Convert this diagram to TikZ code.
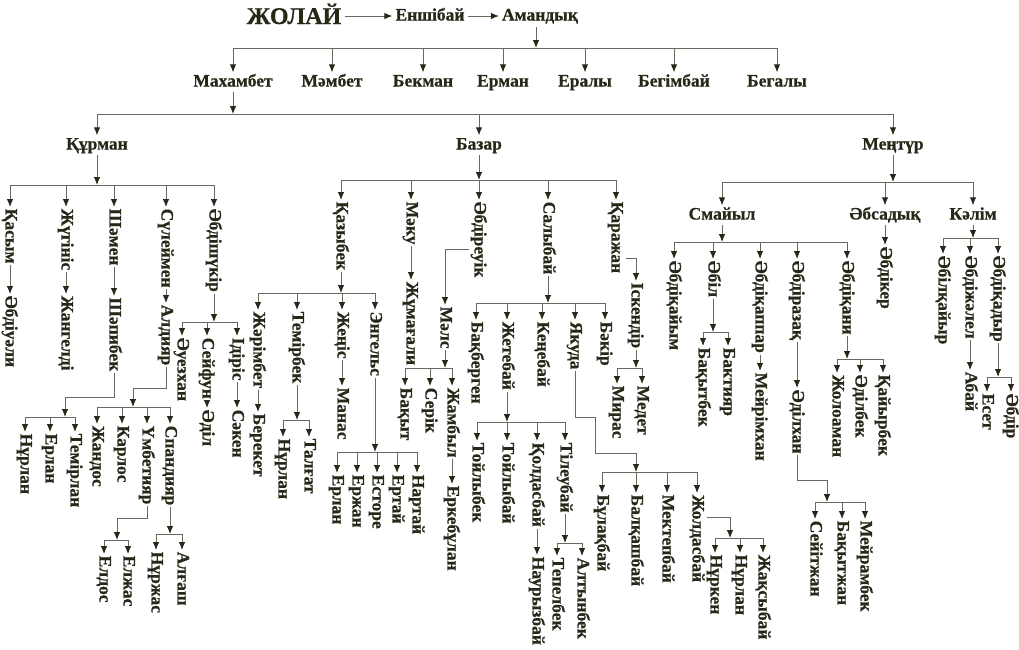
\documentclass[tikz,border=0pt]{standalone}
\usepackage{fontspec}
\setmainfont{Liberation Serif}[BoldFeatures={FakeBold=0.6}]
\usetikzlibrary{arrows.meta,calc}
\definecolor{txtc}{RGB}{40,40,25}
\definecolor{linec}{RGB}{105,105,95}
\definecolor{headc}{RGB}{40,40,25}
\newcommand\nmfont{\fontsize{17.5}{20}\selectfont\bfseries}
\tikzset{
  nm/.style={font=\nmfont, text=txtc, inner sep=1.5pt, text height=12.5pt, text depth=3.5pt},
  vnm/.style={nm, rotate=-90, anchor=west},
  ln/.style={draw=linec, line width=0.9pt},
  arr/.style={ln, -{Latex[length=8pt,width=6.5pt,color=headc]}},
}
\begin{document}
\begin{tikzpicture}[x=1pt,y=-1pt]
\fill[white] (0,0) rectangle (1019,649);
\useasboundingbox (0,0) rectangle (1019,649);

% top line
\node[nm, font=\fontsize{24}{28}\selectfont\bfseries, text height=17pt, text depth=1pt, inner sep=4pt] (zholai) at (294,16) {ЖОЛАЙ};
\node[nm, inner sep=3pt] (enshibai) at (430,16) {Еншібай};
\node[nm, inner sep=3pt] (amandyk) at (540,16) {Амандық};
\draw[arr] (zholai) -- (enshibai);
\draw[arr] (enshibai) -- (amandyk);
\coordinate (topbar) at (536,48);
\draw[arr] (amandyk.south -| topbar) -- (topbar);

% sons of Амандық
\node[nm] (mahambet) at (233,82) {Махамбет};
\node[nm] (mambet) at (332,82) {Мәмбет};
\node[nm] (bekman) at (423,82) {Бекман};
\node[nm] (erman) at (503,82) {Ерман};
\node[nm] (eraly) at (585,82) {Ералы};
\node[nm] (begimbai) at (674,82) {Бегімбай};
\node[nm] (begaly) at (777,82) {Бегалы};
\draw[ln] (mahambet |- topbar) -- (begaly |- topbar);
\foreach \c in {mahambet,mambet,bekman,erman,eraly,begimbai,begaly}
  \draw[arr] (\c |- topbar) -- (\c.north);

% sons of Махамбет
\node[nm] (kurman) at (97,145) {Құрман};
\node[nm] (bazar) at (479,145) {Базар};
\node[nm] (mentur) at (893,145) {Меңтүр};
\coordinate (midbar) at (233,114);
\draw[arr] (mahambet) -- (mahambet |- midbar);
\draw[ln] (kurman |- midbar) -- (mentur |- midbar);
\foreach \c in {kurman,bazar,mentur}
  \draw[arr] (\c |- midbar) -- (\c.north);

% ---- Құрман ----
\coordinate (kurmanbar) at (97,185);
\node[vnm] (kasym) at (10,207) {Қасым};
\node[vnm] (zhuginis) at (66,207) {Жүгініс};
\node[vnm] (shamen) at (114,207) {Шәмен};
\node[vnm] (suleimen) at (166,207) {Сүлеймен};
\node[vnm] (abdishukir) at (214,207) {Әбдішүкір};
\node[vnm] (abdiuali) at (10,294) {Әбдіуәли};
\node[vnm] (zhangeldi) at (66,294) {Жангелді};
\node[vnm] (shapibek) at (114,296) {Шәпибек};
\node[vnm] (aldiyar) at (166,303) {Алдияр};
\draw[arr] (kurman) -- (kurman |- kurmanbar);
\draw[ln] (kasym.west |- kurmanbar) -- (abdishukir.west |- kurmanbar);
\foreach \c in {kasym,zhuginis,shamen,suleimen,abdishukir}
  \draw[arr] (\c.west |- kurmanbar) -- (\c.west);
\draw[arr] (kasym) -- (abdiuali);
\draw[arr] (zhuginis) -- (zhangeldi);
\draw[arr] (shamen) -- (shapibek);
\draw[arr] (suleimen) -- (aldiyar);

% Шәпибек
\coordinate (shapibekelb) at (65,397);
\coordinate (shapibekbar) at (65,417);
\node[vnm] (nurlanA) at (25,432) {Нұрлан};
\node[vnm] (erlanA) at (50,432) {Ерлан};
\node[vnm] (temirlan) at (75,432) {Темірлан};
\draw[arr] (shapibek.east) |- (shapibekelb) -- (shapibekbar);
\draw[ln] (nurlanA.west |- shapibekbar) -- (temirlan.west |- shapibekbar);
\foreach \c in {nurlanA,erlanA,temirlan}
  \draw[arr] (\c.west |- shapibekbar) -- (\c.west);

% Алдияр
\coordinate (aldiyarelb) at (133,388);
\coordinate (aldiyarbar) at (133,407);
\node[vnm] (zhandos) at (97,424) {Жандос};
\node[vnm] (karlos) at (122,424) {Карлос};
\node[vnm] (umbetiyar) at (147,424) {Үмбетияр};
\node[vnm] (spandiyar) at (170,424) {Спандияр};
\draw[arr] (aldiyar.east) |- (aldiyarelb) -- (aldiyarbar);
\draw[ln] (zhandos.west |- aldiyarbar) -- (spandiyar.west |- aldiyarbar);
\foreach \c in {zhandos,karlos,umbetiyar,spandiyar}
  \draw[arr] (\c.west |- aldiyarbar) -- (\c.west);

\coordinate (umbetiyarelb) at (117,518);
\coordinate (umbetiyarbar) at (117,540);
\node[vnm] (eldos) at (104,554) {Елдос};
\node[vnm] (elzhas) at (128,554) {Елжас};
\draw[arr] (umbetiyar.east) |- (umbetiyarelb) -- (umbetiyarbar);
\draw[ln] (eldos.west |- umbetiyarbar) -- (elzhas.west |- umbetiyarbar);
\foreach \c in {eldos,elzhas}
  \draw[arr] (\c.west |- umbetiyarbar) -- (\c.west);

\coordinate (spandiyarbar) at (170,534);
\node[vnm] (nurzhas) at (156,550) {Нұржас};
\node[vnm] (algash) at (182,550) {Алғаш};
\draw[arr] (spandiyar.east) -- (spandiyar.east |- spandiyarbar);
\draw[ln] (nurzhas.west |- spandiyarbar) -- (algash.west |- spandiyarbar);
\foreach \c in {nurzhas,algash}
  \draw[arr] (\c.west |- spandiyarbar) -- (\c.west);

% Әбдішүкір
\coordinate (abdishukirbar) at (214,322);
\node[vnm] (auezkhan) at (182,336) {Әуезхан};
\node[vnm] (seifun) at (207,336) {Сейфун};
\node[vnm] (idiris) at (237,336) {Ідіріс};
\node[vnm] (adil) at (207,408) {Әділ};
\node[vnm] (saken) at (237,408) {Сәкен};
\draw[arr] (abdishukir.east) -- (abdishukir.east |- abdishukirbar);
\draw[ln] (auezkhan.west |- abdishukirbar) -- (idiris.west |- abdishukirbar);
\foreach \c in {auezkhan,seifun,idiris}
  \draw[arr] (\c.west |- abdishukirbar) -- (\c.west);
\draw[arr] (seifun) -- (adil);
\draw[arr] (idiris) -- (saken);

% ---- Базар ----
\coordinate (bazarbar) at (479,180);
\node[vnm] (kazybek) at (341,200) {Қазыбек};
\node[vnm] (maku) at (411,200) {Мәку};
\node[vnm] (abdireuik) at (479,200) {Әбдіреуік};
\node[vnm] (salybai) at (548,200) {Салыбай};
\node[vnm] (karazhan) at (616,200) {Қаражан};
\node[vnm] (zhumagali) at (411,280) {Жұмағали};
\draw[arr] (bazar) -- (bazar |- bazarbar);
\draw[ln] (kazybek.west |- bazarbar) -- (karazhan.west |- bazarbar);
\foreach \c in {kazybek,maku,abdireuik,salybai,karazhan}
  \draw[arr] (\c.west |- bazarbar) -- (\c.west);
\draw[arr] (maku) -- (zhumagali);

% Қазыбек
\coordinate (kazybekbar) at (341,293);
\node[vnm] (zharimbet) at (258,310) {Жәрімбет};
\node[vnm] (temirbek) at (297,310) {Темірбек};
\node[vnm] (zhenis) at (342,310) {Жеңіс};
\node[vnm] (engels) at (375,310) {Энгельс};
\node[vnm] (bereket) at (258,412) {Берекет};
\node[vnm] (manas) at (342,386) {Манас};
\draw[arr] (kazybek.east) -- (kazybek.east |- kazybekbar);
\draw[ln] (zharimbet.west |- kazybekbar) -- (engels.west |- kazybekbar);
\foreach \c in {zharimbet,temirbek,zhenis,engels}
  \draw[arr] (\c.west |- kazybekbar) -- (\c.west);
\draw[arr] (zharimbet) -- (bereket);
\draw[arr] (zhenis) -- (manas);

\coordinate (temirbekbar) at (297,420);
\node[vnm] (nurlanB) at (283,437) {Нұрлан};
\node[vnm] (talgat) at (309,437) {Талғат};
\draw[arr] (temirbek.east) -- (temirbek.east |- temirbekbar);
\draw[ln] (nurlanB.west |- temirbekbar) -- (talgat.west |- temirbekbar);
\foreach \c in {nurlanB,talgat}
  \draw[arr] (\c.west |- temirbekbar) -- (\c.west);

\coordinate (engelsbar) at (375,452);
\node[vnm] (erlanB) at (337,473) {Ерлан};
\node[vnm] (erzhan) at (357,473) {Ержан};
\node[vnm] (estore) at (377,473) {Есторе};
\node[vnm] (ertai) at (397,473) {Ертай};
\node[vnm] (nartai) at (417,473) {Нартай};
\draw[arr] (engels.east) -- (engels.east |- engelsbar);
\draw[ln] (erlanB.west |- engelsbar) -- (nartai.west |- engelsbar);
\foreach \c in {erlanB,erzhan,estore,ertai,nartai}
  \draw[arr] (\c.west |- engelsbar) -- (\c.west);

% Әбдіреуік
\node[vnm] (mals) at (445,305) {Мәлс};
\draw[arr] ($(abdireuik.south west)!0.62!(abdireuik.south east)$) -| (mals.west);
\coordinate (malsbar) at (445,368);
\node[vnm] (bakyt) at (405,386) {Бақыт};
\node[vnm] (serik) at (430,386) {Серік};
\node[vnm] (zhambyl) at (452,386) {Жамбыл};
\node[vnm] (erkebulan) at (452,484) {Еркебұлан};
\draw[arr] (mals.east) -- (mals.east |- malsbar);
\draw[ln] (bakyt.west |- malsbar) -- (zhambyl.west |- malsbar);
\foreach \c in {bakyt,serik,zhambyl}
  \draw[arr] (\c.west |- malsbar) -- (\c.west);
\draw[arr] (zhambyl) -- (erkebulan);

% Салыбай
\coordinate (salybaibar) at (548,303);
\node[vnm] (bakbergen) at (476,320) {Бақберген};
\node[vnm] (zhetebai) at (507,320) {Жетебай};
\node[vnm] (kenebai) at (542,320) {Кеңебай};
\node[vnm] (yakuda) at (575,320) {Якуда};
\node[vnm] (bakir) at (605,320) {Бәкір};
\draw[arr] (salybai.east) -- (salybai.east |- salybaibar);
\draw[ln] (bakbergen.west |- salybaibar) -- (bakir.west |- salybaibar);
\foreach \c in {bakbergen,zhetebai,kenebai,yakuda,bakir}
  \draw[arr] (\c.west |- salybaibar) -- (\c.west);

\coordinate (zhetebaibar) at (507,422);
\node[vnm] (toilybek) at (477,441) {Тойлыбек};
\node[vnm] (toilybai) at (507,441) {Тойлыбай};
\node[vnm] (koldasbai) at (537,441) {Қолдасбай};
\node[vnm] (tileubai) at (565,441) {Тілеубай};
\node[vnm] (nauryzbai) at (537,555) {Наурызбай};
\draw[arr] (zhetebai.east) -- (zhetebai.east |- zhetebaibar);
\draw[ln] (toilybek.west |- zhetebaibar) -- (tileubai.west |- zhetebaibar);
\foreach \c in {toilybek,toilybai,koldasbai,tileubai}
  \draw[arr] (\c.west |- zhetebaibar) -- (\c.west);
\draw[arr] (koldasbai) -- (nauryzbai);

\coordinate (tileubaibar) at (565,543);
\node[vnm] (tepelbek) at (557,556) {Тепелбек};
\node[vnm] (altynbek) at (582,556) {Алтынбек};
\draw[arr] (tileubai.east) -- (tileubai.east |- tileubaibar);
\draw[ln] (tepelbek.west |- tileubaibar) -- (altynbek.west |- tileubaibar);
\foreach \c in {tepelbek,altynbek}
  \draw[arr] (\c.west |- tileubaibar) -- (\c.west);

% Якуда
\coordinate (yakudaelb) at (595,417);
\coordinate (yakudaelbb) at (636,453);
\coordinate (yakudabar) at (636,472);
\node[vnm] (bulakbai) at (602,493) {Бұлақбай};
\node[vnm] (balkashbai) at (636,493) {Балқашбай};
\node[vnm] (mektepbai) at (667,493) {Мектепбай};
\node[vnm] (zholdasbai) at (697,493) {Жолдасбай};
\draw[arr] (yakuda.east) |- (yakudaelb) |- (yakudaelbb) -- (yakudabar);
\draw[ln] (bulakbai.west |- yakudabar) -- (zholdasbai.west |- yakudabar);
\foreach \c in {bulakbai,balkashbai,mektepbai,zholdasbai}
  \draw[arr] (\c.west |- yakudabar) -- (\c.west);

\coordinate (zholdasbaibar) at (730,538);
\node[vnm] (nurken) at (715,553) {Нұркен};
\node[vnm] (nurlanC) at (740,553) {Нұрлан};
\node[vnm] (zhaksybai) at (763,553) {Жақсыбай};
\draw[arr] ($(zholdasbai.north west)!0.27!(zholdasbai.north east)$) -| (zholdasbaibar);
\draw[ln] (nurken.west |- zholdasbaibar) -- (zhaksybai.west |- zholdasbaibar);
\foreach \c in {nurken,nurlanC,zhaksybai}
  \draw[arr] (\c.west |- zholdasbaibar) -- (\c.west);

% Қаражан
\node[vnm] (iskendir) at (636,281) {Іскендір};
\draw[arr] ($(karazhan.north west)!0.78!(karazhan.north east)$) -| (iskendir.west);
\coordinate (iskendirbar) at (636,368);
\node[vnm] (miras) at (617,384) {Мирас};
\node[vnm] (medet) at (642,384) {Медет};
\draw[arr] (iskendir.east) -- (iskendir.east |- iskendirbar);
\draw[ln] (miras.west |- iskendirbar) -- (medet.west |- iskendirbar);
\foreach \c in {miras,medet}
  \draw[arr] (\c.west |- iskendirbar) -- (\c.west);

% ---- Меңтүр ----
\coordinate (menturbar) at (893,182);
\node[nm] (smaiyl) at (722,215) {Смайыл};
\node[nm] (absadyk) at (885,215) {Әбсадық};
\node[nm] (kalim) at (973,215) {Кәлім};
\draw[arr] (mentur) -- (mentur |- menturbar);
\draw[ln] (smaiyl |- menturbar) -- (kalim |- menturbar);
\foreach \c in {smaiyl,absadyk,kalim}
  \draw[arr] (\c |- menturbar) -- (\c.north);

% Смайыл
\coordinate (smaiylbar) at (722,242);
\node[vnm] (abdikaiym) at (674,259) {Әбдіқайым};
\node[vnm] (abil) at (713,259) {Әбіл};
\node[vnm] (abdikappar) at (760,259) {Әбдіқаппар};
\node[vnm] (abdirazak) at (797,259) {Әбдіразақ};
\node[vnm] (abdikani) at (847,259) {Әбдіқани};
\draw[arr] (smaiyl) -- (smaiyl |- smaiylbar);
\draw[ln] (abdikaiym.west |- smaiylbar) -- (abdikani.west |- smaiylbar);
\foreach \c in {abdikaiym,abil,abdikappar,abdirazak,abdikani}
  \draw[arr] (\c.west |- smaiylbar) -- (\c.west);

\coordinate (abilbar) at (713,332);
\node[vnm] (bakytbek) at (703,346) {Бақытбек};
\node[vnm] (baktiyar) at (728,346) {Бактияр};
\draw[arr] (abil.east) -- (abil.east |- abilbar);
\draw[ln] (bakytbek.west |- abilbar) -- (baktiyar.west |- abilbar);
\foreach \c in {bakytbek,baktiyar}
  \draw[arr] (\c.west |- abilbar) -- (\c.west);

\node[vnm] (meirimkhan) at (760,371) {Мейрімхан};
\draw[arr] (abdikappar) -- (meirimkhan);

\node[vnm] (adilkhan) at (797,388) {Әділхан};
\draw[arr] (abdirazak) -- (adilkhan);
\coordinate (adilkhanelb) at (827,480);
\coordinate (adilkhanbar) at (827,502);
\node[vnm] (seitzhan) at (815,519) {Сейітжан};
\node[vnm] (bakytzhan) at (842,519) {Бақытжан};
\node[vnm] (meirambek) at (865,519) {Мейрамбек};
\draw[arr] (adilkhan.east) |- (adilkhanelb) -- (adilkhanbar);
\draw[ln] (seitzhan.west |- adilkhanbar) -- (meirambek.west |- adilkhanbar);
\foreach \c in {seitzhan,bakytzhan,meirambek}
  \draw[arr] (\c.west |- adilkhanbar) -- (\c.west);

\coordinate (abdikanibar) at (847,359);
\node[vnm] (zholoaman) at (837,373) {Жолоаман};
\node[vnm] (adilbek) at (860,373) {Әділбек};
\node[vnm] (kaiyrbek) at (883,373) {Қайырбек};
\draw[arr] (abdikani.east) -- (abdikani.east |- abdikanibar);
\draw[ln] (zholoaman.west |- abdikanibar) -- (kaiyrbek.west |- abdikanibar);
\foreach \c in {zholoaman,adilbek,kaiyrbek}
  \draw[arr] (\c.west |- abdikanibar) -- (\c.west);

% Әбсадық
\node[vnm] (abdiker) at (885,245) {Әбдікер};
\draw[arr] (absadyk) -- (abdiker);

% Кәлім
\coordinate (kalimbar) at (973,238);
\node[vnm] (abilkaiyr) at (943,254) {Әбілқайыр};
\node[vnm] (abdizhalel) at (970,254) {Әбдіжәлел};
\node[vnm] (abdikadyr) at (998,254) {Әбдіқадыр};
\draw[arr] (kalim) -- (kalim |- kalimbar);
\draw[ln] (abilkaiyr.west |- kalimbar) -- (abdikadyr.west |- kalimbar);
\foreach \c in {abilkaiyr,abdizhalel,abdikadyr}
  \draw[arr] (\c.west |- kalimbar) -- (\c.west);
\node[vnm] (abai) at (970,370) {Абай};
\draw[arr] (abdizhalel) -- (abai);

\coordinate (abdikadyrbar) at (998,377);
\node[vnm] (eset) at (987,392) {Есет};
\node[vnm] (abdir) at (1011,392) {Әбдір};
\draw[arr] (abdikadyr.east) -- (abdikadyr.east |- abdikadyrbar);
\draw[ln] (eset.west |- abdikadyrbar) -- (abdir.west |- abdikadyrbar);
\foreach \c in {eset,abdir}
  \draw[arr] (\c.west |- abdikadyrbar) -- (\c.west);
\end{tikzpicture}
\end{document}
